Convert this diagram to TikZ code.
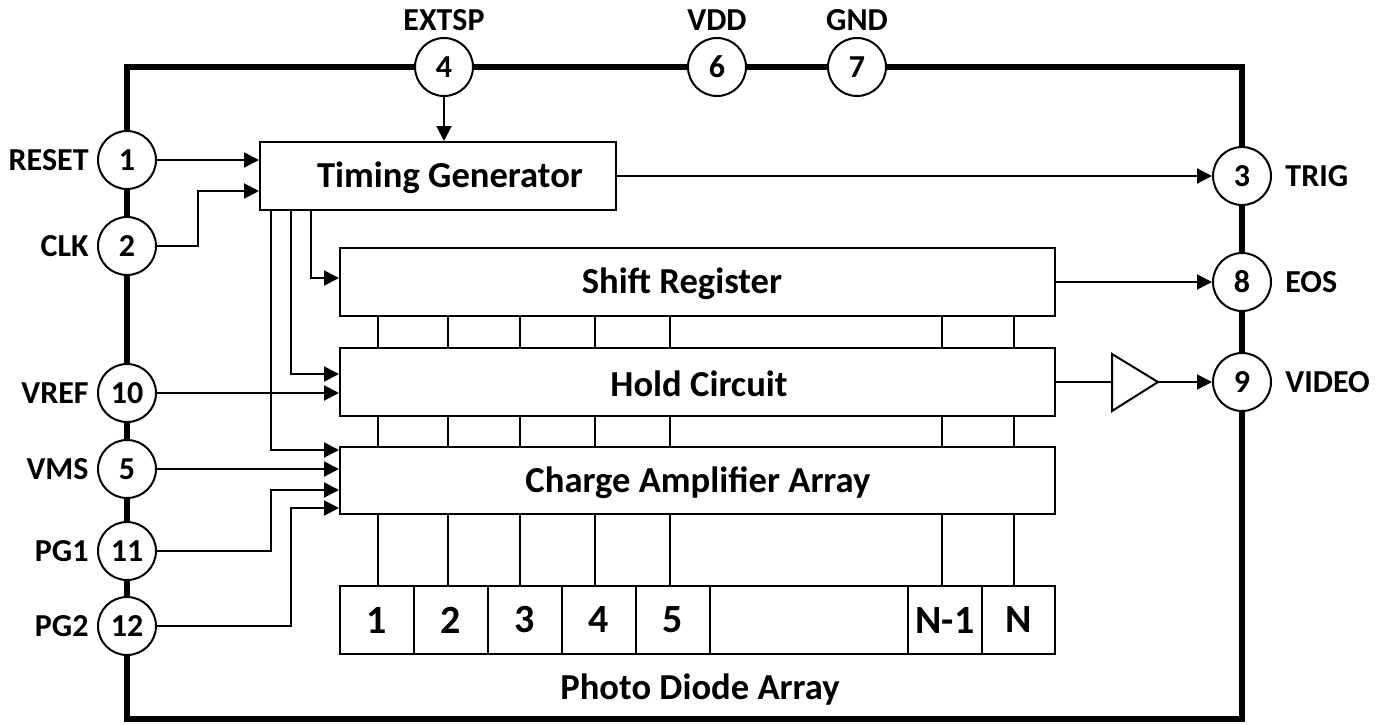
\documentclass[tikz,border=0pt]{standalone}
\usepackage{fontspec}
\setmainfont{Carlito}
\usetikzlibrary{arrows.meta}
\begin{document}
\begin{tikzpicture}[x=0.5pt,y=-0.5pt,
  thinline/.style={line width=1pt},
  arr/.style={line width=1pt,-{Triangle[length=7.5pt,width=7.5pt]}},
  pin/.style={circle,draw,line width=1pt,fill=white,minimum size=29pt,inner sep=0pt,font=\fontsize{16}{18}\selectfont\bfseries},
  pinlabel/.style={font=\fontsize{16}{18}\selectfont\bfseries,inner sep=0pt},
  box/.style={draw,line width=1pt,inner sep=0pt},
  boxtext/.style={font=\fontsize{18.3}{20}\selectfont\bfseries,inner sep=0pt},
  cell/.style={draw,line width=1pt,inner sep=0pt,minimum height=34pt,font=\fontsize{20}{22}\selectfont\bfseries}]
\useasboundingbox (0,0) rectangle (1386,724);
% outer package border
\draw[line width=2.8pt] (127,67) rectangle (1242,719);
% blocks
\node[box,minimum width=178pt,minimum height=34pt] (tg) at (438,176) {};
\node[boxtext] at (450,178) {Timing Generator};
\node[box,minimum width=357.5pt,minimum height=34pt] (sr) at (697.5,282) {};
\node[boxtext] at (682,284) {Shift Register};
\node[box,minimum width=357.5pt,minimum height=34pt] (hc) at (697.5,382) {};
\node[boxtext] at (699,384) {Hold Circuit};
\node[box,minimum width=357.5pt,minimum height=33.5pt] (ca) at (697.5,480.5) {};
\node[boxtext] at (698,483) {Charge Amplifier Array};
% photo diode cells
\node[cell,minimum width=37pt] (d1) at (377,620) {1};
\node[cell,minimum width=37pt] (d2) at (451,620) {2};
\node[cell,minimum width=37pt] (d3) at (525,620) {3};
\node[cell,minimum width=37pt] (d4) at (599,620) {4};
\node[cell,minimum width=37pt] (d5) at (673,620) {5};
\node[cell,minimum width=99pt] (dx) at (809,620) {};
\node[cell,minimum width=37pt] (dn1) at (945,620) {N-1};
\node[cell,minimum width=36.5pt] (dn) at (1018.5,620) {N};
\node[boxtext] (pdl) at (700,690) {Photo Diode Array};
% bus lines
\foreach \x in {378,448,520,595,670,942,1014}{
  \coordinate (v) at (\x,0);
  \draw[thinline] (sr.south -| v) -- (hc.north -| v);
  \draw[thinline] (hc.south -| v) -- (ca.north -| v);
  \draw[thinline] (ca.south -| v) -- (d1.north -| v);
}
% buffer
\coordinate (bi) at (1112,382);
\coordinate (bo) at (1158,382);
\draw[line width=1pt,fill=white] (1112,354) -- (bo) -- (1112,411) -- cycle;
% pins
\node[pin] (p1) at (127,160) {1};
\node[pin] (p2) at (127,246) {2};
\node[pin] (p10) at (127,393) {10};
\node[pin] (p5) at (127,469) {5};
\node[pin] (p11) at (127,551) {11};
\node[pin] (p12) at (127,626) {12};
\node[pin] (p4) at (444,67) {4};
\node[pin] (p6) at (717,67) {6};
\node[pin] (p7) at (857,67) {7};
\node[pin] (p3) at (1242,176) {3};
\node[pin] (p8) at (1242,282) {8};
\node[pin] (p9) at (1242,382) {9};
% pin labels
\node[pinlabel,anchor=east] at (89,160) {RESET};
\node[pinlabel,anchor=east] at (89,246) {CLK};
\node[pinlabel,anchor=east] at (89,393) {VREF};
\node[pinlabel,anchor=east] at (89,469) {VMS};
\node[pinlabel,anchor=east] at (89,551) {PG1};
\node[pinlabel,anchor=east] at (89,626) {PG2};
\node[pinlabel] at (444,20) {EXTSP};
\node[pinlabel] at (717,20) {VDD};
\node[pinlabel] at (857,20) {GND};
\node[pinlabel,anchor=west] at (1285,176) {TRIG};
\node[pinlabel,anchor=west] at (1285,282) {EOS};
\node[pinlabel,anchor=west] at (1285,382) {VIDEO};
% connectors into timing generator
\draw[arr] (p4.south) -- (p4.south |- tg.north);
\draw[arr] (p1.east) -- (p1.east -| tg.west);
\coordinate (c2) at (198,191);
\draw[arr] (p2.east) -| (c2) -- (c2 -| tg.west);
% timing outputs
\coordinate (t1) at (311,278);
\coordinate (t2) at (291,374);
\coordinate (t3) at (271,450);
\draw[arr] (t1 |- tg.south) -- (t1) -- (t1 -| sr.west);
\draw[arr] (t2 |- tg.south) -- (t2) -- (t2 -| hc.west);
\draw[arr] (t3 |- tg.south) -- (t3) -- (t3 -| ca.west);
% other inputs
\draw[arr] (p10.east) -- (p10.east -| hc.west);
\draw[arr] (p5.east) -- (p5.east -| ca.west);
\coordinate (g1) at (271,490);
\coordinate (g2) at (291,508);
\draw[arr] (p11.east) -| (g1) -- (g1 -| ca.west);
\draw[arr] (p12.east) -| (g2) -- (g2 -| ca.west);
% outputs
\draw[arr] (tg.east) -- (tg.east -| p3.west);
\draw[arr] (sr.east) -- (sr.east -| p8.west);
\draw[thinline] (hc.east) -- (bi);
\draw[arr] (bo) -- (p9.west);
\end{tikzpicture}
\end{document}
